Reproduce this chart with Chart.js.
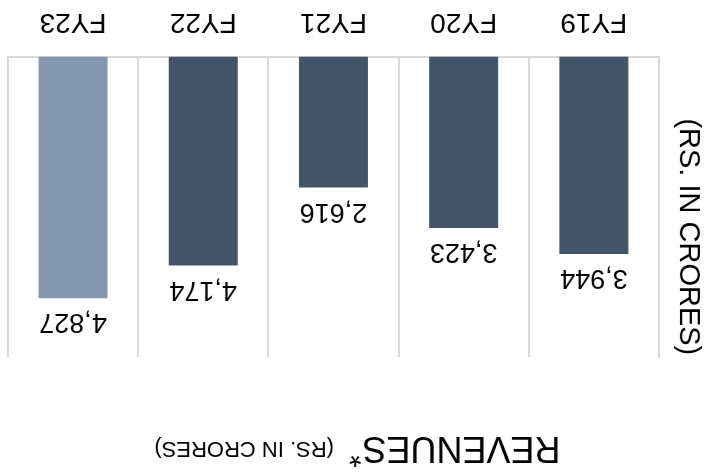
<!DOCTYPE html>
<html>
<head>
<meta charset="utf-8">
<script src="https://cdn.jsdelivr.net/npm/chart.js@4/dist/chart.umd.min.js"></script>
<style>
  html, body { margin: 0; padding: 0; background: #ffffff; overflow: hidden; }
  #wrap { width: 705px; height: 473px; transform: rotate(180deg); transform-origin: 50% 50%; }
  canvas { display: block; }
</style>
</head>
<body>
<div id="wrap"><canvas id="c" width="705" height="473"></canvas></div>
<script>
// ---- data ----
const categories = ['FY19', 'FY20', 'FY21', 'FY22', 'FY23'];
const revenues = [3944, 3423, 2616, 4174, 4827];
const barColors = ['#44546A', '#44546A', '#44546A', '#44546A', '#8497B0'];
const titleMain = 'REVENUES';
const titleStar = '*';
const titleSub = '(RS. IN CRORES)';
const yAxisTitle = '(RS. IN CRORES)';
const yMin = 0;
const yMax = 6000;

const FONT = '"Liberation Sans", Arial, Helvetica, sans-serif';

const labelPlugin = {
  id: 'valueLabels',
  afterDatasetsDraw(chart) {
    const ctx = chart.ctx;
    const meta = chart.getDatasetMeta(0);
    ctx.save();
    ctx.font = '27px ' + FONT;
    ctx.fillStyle = '#000000';
    ctx.textAlign = 'center';
    ctx.textBaseline = 'alphabetic';
    meta.data.forEach((bar, i) => {
      const v = chart.data.datasets[0].data[i];
      ctx.fillText(v.toLocaleString('en-US'), bar.x, bar.y - 16);
    });
    ctx.restore();
  }
};

const titlePlugin = {
  id: 'mixedTitle',
  afterDraw(chart) {
    const ctx = chart.ctx;
    ctx.save();
    ctx.fillStyle = '#000000';
    ctx.textAlign = 'left';
    ctx.textBaseline = 'alphabetic';
    ctx.font = '36px ' + FONT;
    const w1 = ctx.measureText(titleMain).width;
    ctx.font = '32px ' + FONT;
    const wStar = ctx.measureText(titleStar).width;
    ctx.font = '22px ' + FONT;
    const w3 = ctx.measureText(titleSub).width;
    const gap1 = 1, gap2 = 15;
    const total = w1 + gap1 + wStar + gap2 + w3;
    let x = chart.width / 2 - 5 - total / 2;
    ctx.font = '36px ' + FONT;
    ctx.fillText(titleMain, x, 36);
    x += w1 + gap1;
    ctx.font = '32px ' + FONT;
    ctx.fillText(titleStar, x, 28);
    x += wStar + gap2;
    ctx.font = '22px ' + FONT;
    ctx.fillText(titleSub, x, 31);

    // y axis title
    ctx.font = '29px ' + FONT;
    ctx.textAlign = 'center';
    ctx.textBaseline = 'middle';
    ctx.translate(17, chart.chartArea.top + (chart.chartArea.bottom - chart.chartArea.top) / 2 - 30);
    ctx.rotate(-Math.PI / 2);
    ctx.fillText(yAxisTitle, 0, 0);
    ctx.restore();
  }
};

new Chart(document.getElementById('c'), {
  type: 'bar',
  data: {
    labels: categories,
    datasets: [{
      data: revenues,
      backgroundColor: barColors,
      borderWidth: 0,
      categoryPercentage: 1.0,
      barPercentage: 0.53
    }]
  },
  options: {
    responsive: false,
    animation: false,
    devicePixelRatio: 1,
    layout: { padding: { left: 46, right: 8, top: 116, bottom: -13 } },
    plugins: {
      legend: { display: false },
      tooltip: { enabled: false },
      title: { display: false }
    },
    scales: {
      x: {
        grid: { display: true, drawTicks: false, color: '#d9d9d9', lineWidth: 2, offset: true },
        border: { display: true, color: '#d9d9d9', width: 2 },
        ticks: { color: '#000000', font: { size: 28, family: FONT }, padding: 18, maxRotation: 0 }
      },
      y: {
        min: yMin,
        max: yMax,
        grid: { display: false, drawTicks: false },
        border: { display: true, color: '#d9d9d9', width: 2 },
        ticks: { display: false }
      }
    }
  },
  plugins: [labelPlugin, titlePlugin]
});
</script>
</body>
</html>
